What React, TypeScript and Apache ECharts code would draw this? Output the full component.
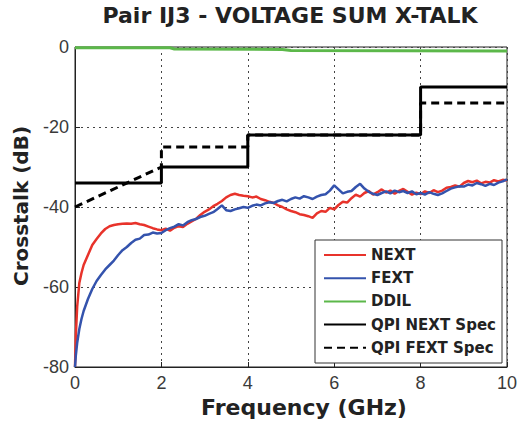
import React, { useEffect, useRef } from "react";
import * as echarts from "echarts";

const xTicks = [0, 2, 4, 6, 8, 10];
const yTicks = [-80, -60, -40, -20, 0];

const nextData: [number, number][] = [
  [0, -80], [0.02, -72], [0.05, -65], [0.1, -59], [0.15, -56.5], [0.2, -54.5], [0.3, -52], [0.4, -49.5],
  [0.5, -48], [0.6, -46.6], [0.7, -45.5], [0.8, -44.8], [0.9, -44.5], [1.0, -44.3], [1.1, -44.2], [1.2, -44.1],
  [1.3, -44.2], [1.4, -44.0], [1.5, -44.3], [1.6, -44.5], [1.7, -44.9], [1.8, -45.3], [1.9, -45.6], [2.0, -45.8],
  [2.1, -45.4], [2.2, -45.9], [2.3, -45.2], [2.4, -44.8], [2.5, -45.0], [2.6, -44.2], [2.7, -43.6], [2.8, -43.0],
  [2.9, -42.0], [3.0, -41.2], [3.1, -40.6], [3.2, -39.8], [3.3, -39.2], [3.4, -38.5], [3.5, -37.6], [3.6, -37.0],
  [3.7, -36.7], [3.8, -37.0], [3.9, -37.2], [4.0, -37.3], [4.1, -37.6], [4.2, -37.4], [4.3, -38.0], [4.4, -38.3],
  [4.5, -38.7], [4.6, -39.0], [4.7, -39.6], [4.8, -40.0], [4.9, -40.6], [5.0, -41.0], [5.1, -41.3], [5.2, -41.8],
  [5.3, -42.0], [5.4, -42.3], [5.5, -42.7], [5.6, -41.6], [5.7, -41.0], [5.8, -41.2], [5.9, -40.2], [6.0, -40.6],
  [6.1, -39.5], [6.2, -38.7], [6.3, -38.9], [6.4, -37.8], [6.5, -36.9], [6.6, -37.4], [6.7, -36.5], [6.8, -36.0],
  [6.9, -36.9], [7.0, -36.3], [7.1, -35.6], [7.2, -36.4], [7.3, -35.9], [7.4, -36.7], [7.5, -36.0], [7.6, -35.5],
  [7.7, -36.2], [7.8, -36.9], [7.9, -36.4], [8.0, -36.8], [8.1, -36.1], [8.2, -36.5], [8.3, -35.8], [8.4, -36.3],
  [8.5, -35.9], [8.6, -35.2], [8.7, -35.0], [8.8, -34.6], [8.9, -34.9], [9.0, -34.0], [9.1, -33.5], [9.2, -33.8],
  [9.3, -33.4], [9.4, -34.1], [9.5, -33.7], [9.6, -33.9], [9.7, -33.3], [9.8, -33.6], [9.9, -33.2], [10, -33.4],
];

const fextData: [number, number][] = [
  [0, -80], [0.02, -77], [0.05, -74], [0.1, -70.5], [0.15, -68], [0.2, -66], [0.3, -63], [0.4, -60.5],
  [0.5, -58.5], [0.6, -57], [0.7, -55.6], [0.8, -54.5], [0.9, -53.4], [1.0, -52], [1.1, -50.8], [1.2, -50.0],
  [1.3, -49.0], [1.4, -48.2], [1.5, -47.9], [1.6, -47.0], [1.7, -46.9], [1.8, -46.4], [1.9, -46.6], [2.0, -46.5],
  [2.1, -45.8], [2.2, -45.3], [2.3, -44.9], [2.4, -44.3], [2.5, -44.6], [2.6, -43.8], [2.7, -43.3], [2.8, -43.0],
  [2.9, -42.5], [3.0, -42.2], [3.1, -41.7], [3.2, -41.3], [3.3, -40.5], [3.4, -39.6], [3.5, -40.8], [3.6, -41.0],
  [3.7, -40.6], [3.8, -40.3], [3.9, -40.0], [4.0, -40.2], [4.1, -39.7], [4.2, -39.4], [4.3, -39.6], [4.4, -39.1],
  [4.5, -38.8], [4.6, -39.0], [4.7, -38.5], [4.8, -38.2], [4.9, -38.6], [5.0, -38.0], [5.1, -37.6], [5.2, -37.9],
  [5.3, -37.3], [5.4, -37.6], [5.5, -38.0], [5.6, -37.4], [5.7, -37.0], [5.8, -36.8], [5.9, -35.9], [6.0, -34.6],
  [6.1, -35.6], [6.2, -36.6], [6.3, -36.2], [6.4, -36.0], [6.5, -35.0], [6.6, -34.2], [6.7, -35.4], [6.8, -36.2],
  [6.9, -36.7], [7.0, -37.0], [7.1, -36.5], [7.2, -36.1], [7.3, -36.6], [7.4, -35.9], [7.5, -36.3], [7.6, -36.0],
  [7.7, -36.5], [7.8, -36.1], [7.9, -36.8], [8.0, -36.5], [8.1, -36.9], [8.2, -36.3], [8.3, -36.7], [8.4, -37.0],
  [8.5, -36.6], [8.6, -36.0], [8.7, -35.4], [8.8, -35.1], [8.9, -34.8], [9.0, -34.9], [9.1, -34.4], [9.2, -34.6],
  [9.3, -34.0], [9.4, -34.3], [9.5, -34.7], [9.6, -34.2], [9.7, -34.5], [9.8, -33.9], [9.9, -33.6], [10, -33.1],
];

const ddilData: [number, number][] = [
  [0, -0.2], [2.2, -0.2], [2.3, -0.5], [4.8, -0.6], [5.0, -0.9], [10, -1.0],
];

const qpiNextSpec: [number, number][] = [
  [0, -34], [2, -34], [2, -30], [4, -30], [4, -22], [8, -22], [8, -10], [10, -10],
];

const qpiFextSpec: [number, number][] = [
  [0, -40], [2, -30], [2, -25], [4, -25], [4, -22], [8, -22], [8, -14], [10, -14],
];

const seriesNames = ["NEXT", "FEXT", "DDIL", "QPI NEXT Spec", "QPI FEXT Spec"];
const titleText = "Pair IJ3 - VOLTAGE SUM X-TALK";
const xName = "Frequency (GHz)";
const yName = "Crosstalk (dB)";

const FONT = "Liberation Sans, Arial, sans-serif";
const BOLD_FONT = "DejaVu Sans, sans-serif";

export default function App() {
  const ref = useRef<HTMLDivElement>(null);
  useEffect(() => {
    if (!ref.current) return;
    const chart = echarts.init(ref.current, null, { renderer: "svg" });
    const gridLine = { show: true, lineStyle: { color: "#444", type: [2, 4] as any, width: 1 } };
    chart.setOption({
      animation: false,
      backgroundColor: "#fff",
      grid: { left: 75, right: 13, top: 47, bottom: 55, show: true, borderColor: "#222", borderWidth: 1, backgroundColor: "transparent" },
      xAxis: {
        type: "value",
        min: xTicks[0],
        max: xTicks[xTicks.length - 1],
        interval: 2,
        axisLine: { show: true, onZero: false, lineStyle: { color: "#222" } },
        axisTick: { show: true, inside: true, length: 5, lineStyle: { color: "#222" } },
        axisLabel: { color: "#3a3a3a", fontSize: 18, fontFamily: FONT, margin: 7 },
        splitLine: gridLine,
      },
      yAxis: {
        type: "value",
        min: yTicks[0],
        max: yTicks[yTicks.length - 1],
        interval: 20,
        axisLine: { show: true, onZero: false, lineStyle: { color: "#222" } },
        axisTick: { show: true, inside: true, length: 5, lineStyle: { color: "#222" } },
        axisLabel: { color: "#3a3a3a", fontSize: 18, fontFamily: FONT, margin: 6 },
        splitLine: gridLine,
      },
      legend: {
        data: seriesNames,
        orient: "vertical",
        left: 323,
        top: 246,
        padding: 0,
        itemWidth: 42,
        itemHeight: 12,
        itemGap: 5.2,
        z: 10,
        itemStyle: { opacity: 0 },
        textStyle: { fontFamily: BOLD_FONT, fontWeight: "bold", fontSize: 15, color: "#222", lineHeight: 18 },
      },
      graphic: [
        { type: "rect", z: 5, shape: { x: 315, y: 240, width: 187, height: 123 }, style: { fill: "#fff", stroke: "#333", lineWidth: 1 } },
        { type: "text", x: 290, y: 15.5, style: { text: titleText, fontFamily: BOLD_FONT, fontWeight: "bold", fontSize: 22, fill: "#222", textAlign: "center", textVerticalAlign: "middle" } },
        { type: "text", x: 304, y: 407, style: { text: xName, fontFamily: BOLD_FONT, fontWeight: "bold", fontSize: 22, fill: "#222", textAlign: "center", textVerticalAlign: "middle" } },
        { type: "text", x: 21, y: 206, rotation: Math.PI / 2, style: { text: yName, fontFamily: BOLD_FONT, fontWeight: "bold", fontSize: 20, fill: "#222", textAlign: "center", textVerticalAlign: "middle" } },
      ],
      series: [
        { name: "NEXT", type: "line", data: nextData, showSymbol: false, symbol: "none", lineStyle: { color: "#e8332b", width: 2.5 }, itemStyle: { color: "#e8332b" } },
        { name: "FEXT", type: "line", data: fextData, showSymbol: false, symbol: "none", lineStyle: { color: "#3453ad", width: 2.5 }, itemStyle: { color: "#3453ad" } },
        { name: "DDIL", type: "line", data: ddilData, showSymbol: false, symbol: "none", lineStyle: { color: "#5cb84a", width: 3 }, itemStyle: { color: "#5cb84a" } },
        { name: "QPI NEXT Spec", type: "line", data: qpiNextSpec, showSymbol: false, symbol: "none", lineStyle: { color: "#000", width: 3 }, itemStyle: { color: "#000" } },
        { name: "QPI FEXT Spec", type: "line", data: qpiFextSpec, showSymbol: false, symbol: "none", lineStyle: { color: "#000", width: 3, type: [8, 5] }, itemStyle: { color: "#000" } },
      ],
    });
    return () => chart.dispose();
  }, []);
  return <div ref={ref} style={{ position: "fixed", left: 0, top: 0, width: 520, height: 422 }} />;
}
